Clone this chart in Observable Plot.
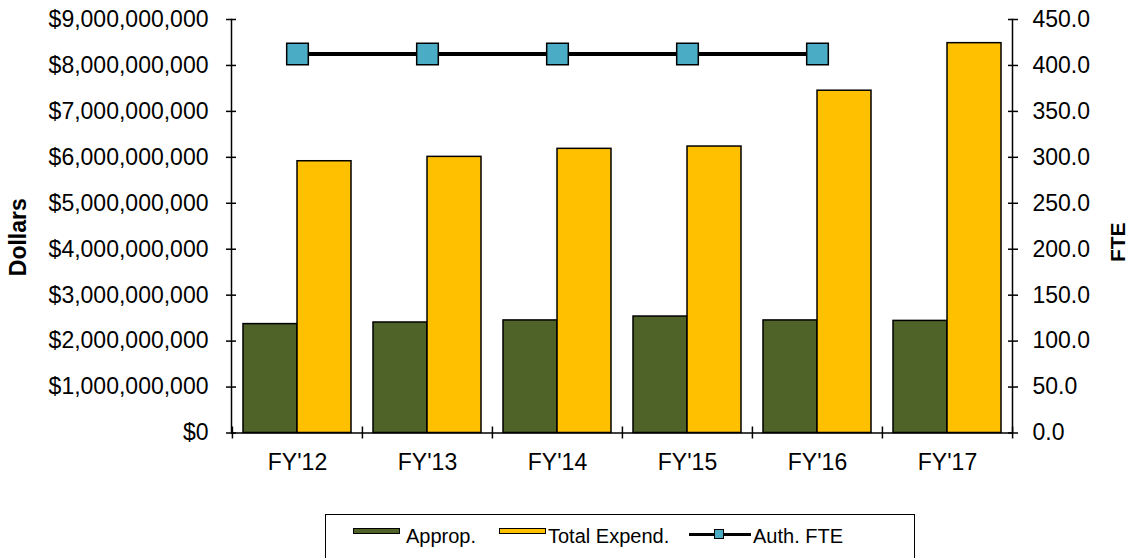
<!DOCTYPE html>
<html>
<head>
<meta charset="utf-8">
<script src="https://cdn.jsdelivr.net/npm/d3@7"></script>
<script src="https://cdn.jsdelivr.net/npm/@observablehq/plot@0.6"></script>
<style>
  html, body { margin: 0; padding: 0; background: #fff; overflow: hidden; }
  body { width: 1138px; height: 558px; position: relative; font-family: "Liberation Sans", Arial, sans-serif; }
  #chart { position: absolute; left: 0; top: 0; }
  .legend { position: absolute; left: 325px; top: 514px; width: 590px; height: 60px; border: 1.5px solid #000; box-sizing: border-box; background: #fff; }
  .legend .sw { position: absolute; top: 13px; width: 45px; height: 4px; border: 1.5px solid #000; }
  .legend .lbl { position: absolute; top: 9px; font-size: 20px; line-height: 24px; color: #000; white-space: nowrap; }
  .legend .ln { position: absolute; top: 18px; height: 3px; background: #000; }
  .legend .mk { position: absolute; top: 14px; width: 8px; height: 8px; background: #4BACC6; border: 1.5px solid #000; }
</style>
</head>
<body>
<div id="chart"></div>
<div class="legend" id="legend"></div>
<script>
const years = ["FY'12", "FY'13", "FY'14", "FY'15", "FY'16", "FY'17"];
const approp = [2.37e9, 2.405e9, 2.45e9, 2.535e9, 2.45e9, 2.44e9];
const totalExpend = [5.915e9, 6.01e9, 6.185e9, 6.235e9, 7.45e9, 8.485e9];
const fteYears = ["FY'12", "FY'13", "FY'14", "FY'15", "FY'16"];
const authFTE = [412.5, 412.5, 412.5, 412.5, 412.5];
const dollarTicks = [0, 1e9, 2e9, 3e9, 4e9, 5e9, 6e9, 7e9, 8e9, 9e9];
const fteMax = 450;
const dollarMax = 9e9;
const seriesNames = ["Approp.", "Total Expend.", "Auth. FTE"];
const colors = ["#4F6228", "#FFC000", "#4BACC6"];

const k = dollarMax / fteMax; // map FTE onto dollar scale
const bars = years.map((y, i) => ({year: y, approp: approp[i], total: totalExpend[i]}));
const fte = fteYears.map((y, i) => ({year: y, fte: authFTE[i]}));

const W = 1138, H = 505;
const mL = 231, mR = 126, mT = 19, mB = H - 432.5;
const step = (W - mL - mR) / 6;
const bw = step * 0.83;

const chart = Plot.plot({
  width: W,
  height: H,
  marginLeft: mL,
  marginRight: mR,
  marginTop: mT,
  marginBottom: mB,
  style: {fontFamily: "'Liberation Sans', Arial, sans-serif", fontSize: "23px", color: "#000", background: "#fff"},
  x: {type: "band", domain: years, paddingInner: 0.17, paddingOuter: 0.085, axis: null},
  y: {domain: [0, dollarMax], axis: null},
  marks: [
    Plot.barY(bars, {x: "year", y: "approp", fill: colors[0], stroke: "#000", strokeWidth: 1.5, insetRight: bw / 2}),
    Plot.barY(bars, {x: "year", y: "total", fill: colors[1], stroke: "#000", strokeWidth: 1.5, insetLeft: bw / 2}),
    Plot.ruleY([0], {stroke: "#000", strokeWidth: 1.5}),
    Plot.frame({anchor: "left", stroke: "#000", strokeWidth: 1.5}),
    Plot.frame({anchor: "right", stroke: "#000", strokeWidth: 1.5}),
    Plot.axisY({anchor: "left", ticks: dollarTicks, tickFormat: d => "$" + d3.format(",")(d), tickSize: 10, dx: 5, tickPadding: 18, label: null, strokeWidth: 1.5}),
    Plot.axisY({anchor: "right", ticks: dollarTicks, tickFormat: d => (d / k).toFixed(1), tickSize: 10, dx: -5, tickPadding: 15, label: null, strokeWidth: 1.5}),
    Plot.axisX({anchor: "bottom", tickSize: 0, tickPadding: 21, label: null}),
    Plot.axisX({anchor: "bottom", ticks: years, tickFormat: () => "", tickSize: 12, dx: -step / 2, dy: -6, label: null, strokeWidth: 1.5}),
    Plot.axisX({anchor: "bottom", ticks: [years[years.length - 1]], tickFormat: () => "", tickSize: 12, dx: step / 2, dy: -6, label: null, strokeWidth: 1.5}),
    Plot.lineY(fte, {x: "year", y: d => d.fte * k, stroke: "#000", strokeWidth: 4}),
    Plot.dot(fte, {x: "year", y: d => d.fte * k, symbol: "square", r: 12.2, fill: colors[2], stroke: "#000", strokeWidth: 1.5}),
    Plot.text(["Dollars"], {frameAnchor: "left", textAnchor: "middle", dx: -213, dy: 11, rotate: -90, fontWeight: "bold", fontSize: 23}),
    Plot.text(["FTE"], {frameAnchor: "right", textAnchor: "middle", dx: 106, dy: 16, rotate: -90, fontWeight: "bold", fontSize: 21})
  ]
});
document.getElementById("chart").appendChild(chart);

// legend
const lg = document.getElementById("legend");
const L = 325;
lg.innerHTML = `
  <div class="sw" style="left:${352 - L}px; background:${colors[0]}"></div>
  <div class="lbl" style="left:${405 - L}px">${seriesNames[0]}</div>
  <div class="sw" style="left:${498 - L}px; background:${colors[1]}"></div>
  <div class="lbl" style="left:${547 - L}px">${seriesNames[1]}</div>
  <div class="ln" style="left:${688 - L}px; width:62px"></div>
  <div class="mk" style="left:${713 - L}px"></div>
  <div class="lbl" style="left:${752 - L}px">${seriesNames[2]}</div>
`;
</script>
</body>
</html>
